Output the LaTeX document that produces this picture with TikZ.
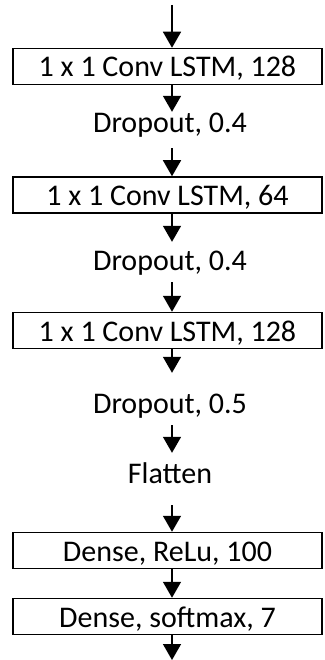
\documentclass[tikz,border=0pt]{standalone}
\usepackage{fontspec}
\setmainfont{Carlito}
\usetikzlibrary{arrows.meta}
\begin{document}
\begin{tikzpicture}[x=1pt,y=-1pt,
  box/.style={draw, line width=1.5pt, minimum width=309pt, minimum height=36pt, inner sep=0pt,
    text height=21pt, text depth=0pt, font=\fontsize{30}{36}\selectfont},
  lbl/.style={inner sep=0pt, text height=19pt, text depth=6pt, anchor=base,
    font=\fontsize{30}{36}\selectfont},
  arr/.style={line width=1.5pt, -{Triangle[width=18pt,length=16pt]}}]
\useasboundingbox (0,0) rectangle (324,660);
\coordinate (top) at (172,5);
\coordinate (bot) at (172,660);
\node[box] (b1) at (167.5,66.5) {1 x 1 Conv LSTM, 128};
\node[lbl] (d1) at (170,133) {Dropout, 0.4};
\node[box] (b2) at (167.5,195) {1 x 1 Conv LSTM, 64};
\node[lbl] (d2) at (170,270) {Dropout, 0.4};
\node[box] (b3) at (167.5,330.5) {1 x 1 Conv LSTM, 128};
\node[lbl] (d3) at (170,413) {Dropout, 0.5};
\node[lbl] (fl) at (170,483) {Flatten};
\node[box] (b4) at (167.5,550.5) {Dense, ReLu, 100};
\node[box] (b5) at (167.5,616.5) {Dense, softmax, 7};
\draw[arr] (top) -- (b1.north -| top);
\draw[arr, shorten >=2pt] (b1.south -| top) -- (d1.north -| top);
\draw[arr, shorten <=9pt] (d1.south -| top) -- (b2.north -| top);
\draw[arr, shorten >=9pt] (b2.south -| top) -- (d2.north -| top);
\draw[arr, shorten <=6pt] (d2.south -| top) -- (b3.north -| top);
\draw[arr, shorten >=21pt] (b3.south -| top) -- (d3.north -| top);
\draw[arr, shorten <=6pt, shorten >=11pt] (d3.south -| top) -- (fl.north -| top);
\draw[arr, shorten <=16pt] (fl.south -| top) -- (b4.north -| top);
\draw[arr] (b4.south -| top) -- (b5.north -| top);
\draw[arr] (b5.south -| top) -- (bot);
\end{tikzpicture}
\end{document}
